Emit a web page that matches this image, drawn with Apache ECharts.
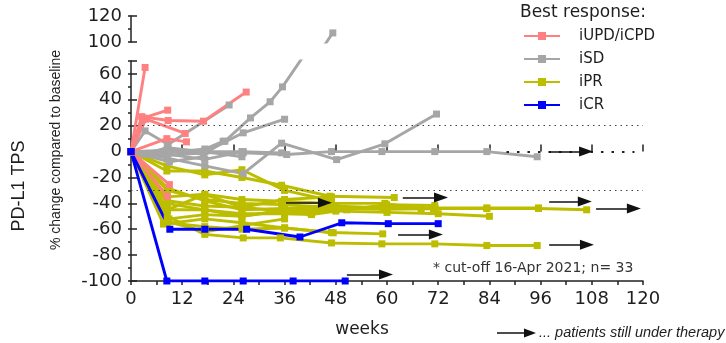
<!DOCTYPE html>
<html><head><meta charset="utf-8">
<script src="https://cdn.jsdelivr.net/npm/echarts@6/dist/echarts.min.js"></script>
<style>html,body{margin:0;padding:0;background:#fff}#c{width:726px;height:343px}</style>
</head><body><div id="c"></div>
<script>
// ---- data ----
const categories = ['iUPD/iCPD', 'iSD', 'iPR', 'iCR'];
const xTicks = [0, 12, 24, 36, 48, 60, 72, 84, 96, 108, 120];

const pinkPatients = [
  [[0,0],[3.3,65]],
  [[0,0],[2.5,27],[8.7,24],[17,23.5],[27,46]],
  [[0,0],[3,26],[8.6,32]],
  [[0,0],[3.5,25],[12.7,14]],
  [[0,0],[8.4,10],[13,7.5]],
  [[0,0],[9,-25.5]],
  [[0,0],[8.5,-34.5]]
];
const grayPatients = [
  [[0,0],[8.5,0],[17,-2],[22,8],[28,26],[32.6,38.5],[35.5,50],[47.3,107]],
  [[0,0],[8.5,-3],[17,-1],[26.3,14.5],[36,25]],
  [[0,0],[8.5,-5],[17.3,-11],[26.3,-17],[35.3,6.5],[48.2,-6.2],[59.5,6],[71.6,29]],
  [[0,0],[8.4,0],[17,-1],[26.3,-1],[36.5,-2.3],[47,0],[58.8,0],[71.2,0],[83.4,0],[95.2,-4]],
  [[0,0],[3.3,16],[8.7,5.5],[23,36]],
  [[0,0],[8.4,1],[17.3,0],[26,-4]],
  [[0,0],[8.4,-2],[17.3,-6],[26.3,0]],
  [[0,0],[9,-8],[17,-4]],
  [[0,0],[8.4,-1],[17.3,2],[21.6,8]],
  [[0,0],[3,-2],[8.5,3],[17,0],[26,0],[35.3,-1]]
];
const yellowPatients = [
  [[0,0],[8.4,-15],[17.3,-15],[26,-20],[35.3,-26],[46.6,-34.5],[61.7,-35.5]],
  [[0,0],[8.5,-30],[17.3,-37],[26,-40],[35.3,-41],[47,-43],[59,-43],[71.2,-43.5],[83.4,-43.5],[95.5,-43.5]],
  [[0,0],[8.5,-38],[17.3,-42],[26,-43],[35.3,-46],[47,-44],[59.5,-44.5],[71.2,-44],[83.4,-44],[95.5,-44],[106.8,-45]],
  [[0,0],[8.5,-45],[17.3,-45],[26,-50],[36,-45],[48,-46],[60,-47],[72,-48],[84,-50]],
  [[0,0],[8.5,-55],[17.3,-58],[26,-60],[36,-59],[47,-62.5],[59,-63.6]],
  [[0,0],[8.5,-50],[17.3,-64],[26.3,-66.7],[35,-66.7],[47,-70.6],[58.8,-71.3],[71.2,-71.3],[83.4,-72.6],[95.2,-72.6]],
  [[0,0],[8.5,-40],[17.3,-45],[26,-48],[36,-48],[42.3,-48.7],[50.6,-44.8],[59.9,-41],[71.2,-41.7]],
  [[0,0],[8.5,-35],[17.3,-33],[26,-37],[35.3,-38.4],[47,-40],[59.5,-40],[68,-44.3]],
  [[0,0],[8.4,-11],[17.3,-18],[26,-14],[36,-30],[47,-38]],
  [[0,0],[8.9,-52],[17.3,-48.7],[26,-50],[35.3,-46],[42,-47.4],[50.6,-45]],
  [[0,0],[7.6,-56],[17.3,-52],[26,-55],[36,-59],[47.4,-62.8]],
  [[0,0],[8.5,-45],[17.3,-33],[26,-43],[36,-37],[47,-35]],
  [[0,0],[8.5,-54],[17.3,-62],[26.3,-57],[36,-52]],
  [[0,0],[8.5,-28],[17.3,-38],[26,-45],[36,-44],[48,-42],[60,-44],[70.9,-44.3]]
];
const bluePatients = [
  [[0,0],[8.4,-100],[17.3,-100],[26.3,-100],[38,-100],[50.2,-100]],
  [[0,0],[9.1,-60],[17.3,-60],[27.1,-60],[39.6,-66],[49.4,-55],[60.3,-55.7],[72,-55.7]]
];
// arrows "still under therapy": [start week, tip week, value]
const arrowMarks = [
  [98, 108.3, 0], [98, 108, -38.5], [109, 119.5, -44], [98, 108.5, -72],
  [63.7, 74.3, -35.5], [62.6, 73.1, -64], [50.6, 61.4, -95], [36.3, 47.1, -39.5]
];
const refLevels = [20, -30];
const zeroDots = [88, 118];

// ---- build ----
const colorMap = {'iUPD/iCPD':'#FF8080', 'iSD':'#A6A6A6', 'iPR':'#BDBD00', 'iCR':'#0000FF'};
const groups = [['iPR', yellowPatients], ['iSD', grayPatients], ['iUPD/iCPD', pinkPatients], ['iCR', bluePatients]];
const F = 'DejaVu Sans';
const txt = '#1e1e1e';
const series = [];
groups.forEach(([name, pats]) => {
  pats.forEach(pts => {
    const base = {
      type: 'line', name, data: pts, symbol: 'rect', symbolSize: 7, clip: true,
      lineStyle: {width: 2.9, color: colorMap[name]}, itemStyle: {color: colorMap[name]},
      emphasis: {disabled: true}, animation: false, silent: true
    };
    series.push(Object.assign({}, base, {xAxisIndex: 0, yAxisIndex: 0}));
    if (Math.max(...pts.map(p => p[1])) > 70) {
      series.push(Object.assign({}, base, {xAxisIndex: 2, yAxisIndex: 2}));
    }
  });
});
series.push({
  type: 'line', data: [], xAxisIndex: 0, yAxisIndex: 0, silent: true, animation: false,
  markLine: {
    silent: true, symbol: ['none', 'none'], label: {show: false}, animation: false,
    data: refLevels.map(v => ({yAxis: v, lineStyle: {type: [1.5, 4], width: 1.2, color: '#444'}}))
      .concat([[{coord: [zeroDots[0], 0], lineStyle: {type: [2.5, 8], width: 2.2, color: '#222'}}, {coord: [zeroDots[1], 0]}]])
  }
});
const arrowPx = 1.64; // half head length in weeks
series.push({
  type: 'line', data: [], xAxisIndex: 0, yAxisIndex: 0, silent: true, animation: false, z: 5,
  markLine: {
    silent: true, symbol: ['none', 'triangle'], label: {show: false}, animation: false,
    lineStyle: {type: 'solid', width: 1.5, color: '#111'},
    data: arrowMarks.map(a => [{coord: [a[0], a[2]]}, {coord: [a[1] - arrowPx, a[2]], symbol: 'triangle', symbolSize: [10, 14]}])
  }
});

const axisLine = {show: true, onZero: false, lineStyle: {color: '#222', width: 1.5}};
const tickStyle = {color: '#222', width: 1.5};
const labelStyle = {fontFamily: F, fontSize: 18, color: txt};

const option = {
  animation: false,
  grid: [
    {left: 131, width: 512, top: 61, height: 220},
    {left: 131, width: 512, top: 16, height: 26}
  ],
  xAxis: [
    {gridIndex: 0, type: 'value', min: 0, max: 120, interval: 6, axisLine,
     axisTick: {length: 4, lineStyle: tickStyle}, splitLine: {show: false},
     axisLabel: Object.assign({margin: 9, formatter: v => xTicks.includes(v) ? String(v) : ''}, labelStyle)},
    {gridIndex: 0, type: 'value', min: 0, max: 120, interval: 12, axisLine: {show: false},
     axisTick: {length: 7, lineStyle: tickStyle}, axisLabel: {show: false}, splitLine: {show: false}},
    {gridIndex: 1, type: 'value', min: 0, max: 120, show: false}
  ],
  yAxis: [
    {gridIndex: 0, type: 'value', min: -100, max: 70, interval: 10, axisLine,
     axisTick: {length: 3, lineStyle: tickStyle}, splitLine: {show: false},
     axisLabel: Object.assign({margin: 9, formatter: v => (v % 20 === 0 ? String(v) : '')}, labelStyle)},
    {gridIndex: 0, type: 'value', min: -100, max: 70, interval: 20, axisLine: {show: false},
     axisTick: {length: 6, lineStyle: tickStyle}, axisLabel: {show: false}, splitLine: {show: false}},
    {gridIndex: 1, type: 'value', min: 100, max: 120, interval: 10, axisLine,
     axisTick: {length: 3, lineStyle: tickStyle}, splitLine: {show: false},
     axisLabel: Object.assign({margin: 9, formatter: v => (v % 20 === 0 ? String(v) : '')}, labelStyle)},
    {gridIndex: 1, type: 'value', min: 100, max: 120, interval: 20, axisLine: {show: false},
     axisTick: {length: 6, lineStyle: tickStyle}, axisLabel: {show: false}, splitLine: {show: false}}
  ],
  legend: {
    data: categories, orient: 'vertical', left: 523, top: 28, padding: 0,
    itemWidth: 36, itemHeight: 10, itemGap: 7, selectedMode: false,
    textStyle: {fontFamily: F, fontSize: 15, color: txt, padding: [0, 0, 0, 14], lineHeight: 16}
  },
  title: {
    text: 'Best response:', left: 520, top: 4, padding: 0,
    textStyle: {fontFamily: F, fontSize: 17, fontWeight: 'normal', color: txt}
  },
  graphic: [
    {type: 'text', x: 19, y: 186, rotation: Math.PI / 2, silent: true,
     style: {text: 'PD-L1 TPS', font: '18px "Liberation Sans"', fill: txt, align: 'center', verticalAlign: 'middle'}},
    {type: 'text', x: 56, y: 150, rotation: Math.PI / 2, silent: true,
     style: {text: '% change compared to baseline', font: '14px "Liberation Sans"', fill: txt, align: 'center', verticalAlign: 'middle'}},
    {type: 'text', x: 433, y: 268, silent: true,
     style: {text: '* cut-off 16-Apr 2021; n= 33', font: '14px "DejaVu Sans"', fill: '#333', align: 'left', verticalAlign: 'middle'}},
    {type: 'text', x: 362, y: 330, silent: true,
     style: {text: 'weeks', font: '17px "DejaVu Sans"', fill: txt, align: 'center', verticalAlign: 'middle'}},
    {type: 'line', silent: true, shape: {x1: 497, y1: 333, x2: 526, y2: 333}, style: {stroke: '#111', lineWidth: 1.5}},
    {type: 'polygon', silent: true, shape: {points: [[524, 328.5], [536, 333], [524, 337.5]]}, style: {fill: '#111'}},
    {type: 'text', x: 539, y: 333, silent: true,
     style: {text: '... patients still under therapy', font: 'italic 14.5px "Liberation Sans"', fill: txt, align: 'left', verticalAlign: 'middle'}}
  ],
  series
};
const chart = echarts.init(document.getElementById('c'), null, {renderer: 'canvas'});
chart.setOption(option);
</script></body></html>
